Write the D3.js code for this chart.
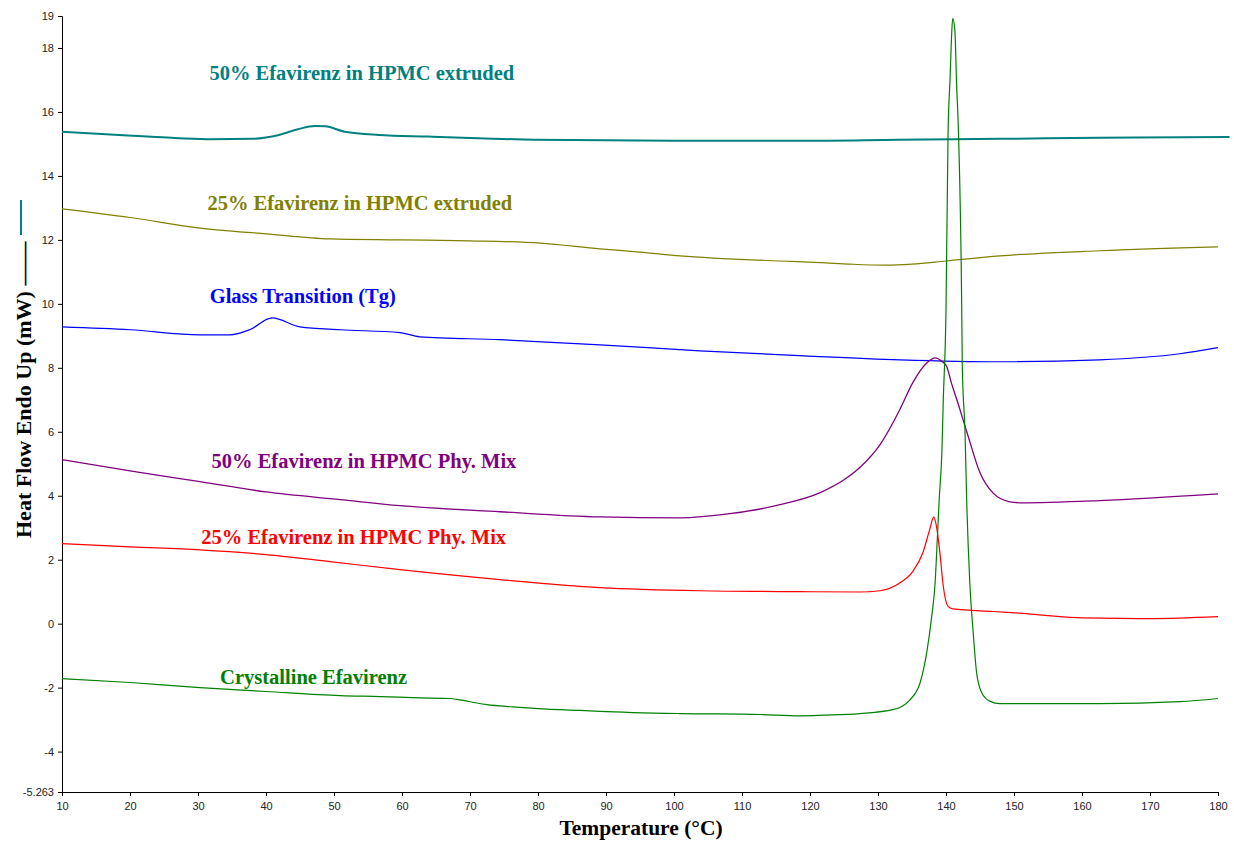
<!DOCTYPE html>
<html>
<head>
<meta charset="utf-8">
<script src="https://cdn.jsdelivr.net/npm/d3@7"></script>
<style>
  html, body { margin: 0; padding: 0; background: #fff; }
  svg { display: block; }
  .tick text { font-family: "Liberation Sans", Arial, sans-serif; font-size: 11px; fill: #222; }
  .note { font-family: "Liberation Serif", "Times New Roman", serif; font-weight: bold; font-size: 20.5px; }
  .axis-title { font-family: "Liberation Serif", "Times New Roman", serif; font-weight: bold; }
</style>
</head>
<body>
<svg id="chart"></svg>
<script>
// DSC traces: [temperature °C, heat flow mW]
const extruded50 = [
  [10, 15.38], [18.5, 15.28], [27.2, 15.18], [32, 15.15], [37.9, 15.16], [41.9, 15.28],
  [44.7, 15.46], [47.2, 15.56], [48.7, 15.55], [51.6, 15.38], [56.6, 15.28], [63.9, 15.23],
  [71.2, 15.18], [79.6, 15.13], [100, 15.1], [118.5, 15.1], [133, 15.13], [148, 15.16],
  [162.6, 15.19], [181.7, 15.22]
];
const extruded25 = [
  [10, 12.97], [20, 12.7], [30.3, 12.37], [40, 12.19], [49.4, 12.03], [59.7, 12.0],
  [70, 11.97], [80.3, 11.9], [89.1, 11.72], [95, 11.62], [100.9, 11.5], [115.6, 11.34],
  [121.5, 11.29], [126, 11.24], [131, 11.21], [135, 11.24], [140, 11.34], [147.9, 11.5],
  [162.6, 11.66], [180, 11.78]
];
const glassTransition = [
  [10, 9.28], [20, 9.19], [30.3, 9.03], [34.7, 9.03], [37.6, 9.19], [40.9, 9.56],
  [45, 9.28], [50.9, 9.19], [59.7, 9.1], [62.6, 8.97], [74.4, 8.88], [89.1, 8.72],
  [103.8, 8.53], [118.5, 8.38], [133.2, 8.25], [148, 8.19], [162.6, 8.25],
  [174.4, 8.44], [180, 8.63]
];
const physMix50 = [
  [10, 5.13], [20, 4.78], [30.3, 4.44], [40, 4.12], [50.9, 3.88], [59.7, 3.69],
  [74.4, 3.5], [89.1, 3.34], [100.9, 3.31], [108.2, 3.44], [115.6, 3.72], [121.5, 4.1],
  [125, 4.5], [127.4, 4.9], [130.3, 5.6], [133.2, 6.69], [135.1, 7.53], [137.2, 8.16],
  [138.4, 8.31], [139.4, 8.2], [140.1, 8.04], [140.8, 7.52], [141.6, 7.0], [143.1, 5.97],
  [145, 4.72], [146.9, 4.09], [149.4, 3.81], [150.9, 3.78], [162.6, 3.85], [180, 4.06]
];
const physMix25 = [
  [10, 2.5], [20, 2.4], [30.3, 2.31], [40, 2.16], [49.4, 1.94], [59.7, 1.69],
  [74.4, 1.38], [89.1, 1.13], [103.8, 1.03], [118.5, 1.0], [127.35, 0.99], [130.3, 1.03],
  [133.2, 1.27], [135.1, 1.63], [136.6, 2.22], [137.6, 2.94], [138.2, 3.33], [138.6, 3.04],
  [139.1, 2.22], [139.6, 1.17], [140.3, 0.54], [141.0, 0.46], [146.9, 0.38], [150.9, 0.33],
  [155, 0.25], [160, 0.18], [170, 0.16], [180, 0.22]
];
const crystalline = [
  [10, -1.72], [20, -1.84], [30.3, -2.0], [40, -2.12], [50.9, -2.25], [56.8, -2.28],
  [62.6, -2.32], [67.1, -2.34], [69, -2.4], [71, -2.48], [72.5, -2.53],
  [76.3, -2.6], [81.3, -2.67], [86.2, -2.71], [89.1, -2.74], [100.9, -2.81], [112.6, -2.84],
  [118.5, -2.88], [122, -2.86], [127.35, -2.81], [132.2, -2.69], [134.7, -2.38],
  [136.2, -1.84], [137.16, -0.91], [137.9, 0.23], [138.4, 1.28], [138.72, 2.63],
  [139.0, 3.88], [139.4, 5.4], [139.6, 7.0], [140.0, 9.8], [140.3, 15.3], [140.6, 17.05],
  [140.84, 18.47], [140.99, 18.93], [141.3, 18.56], [141.57, 16.8], [141.8, 15.6],
  [142.3, 10.1], [142.4, 8.0], [142.8, 5.97], [143.04, 3.88], [143.5, 1.28], [144.0, -0.28],
  [144.5, -1.53], [145.25, -2.16], [146.5, -2.43], [147.9, -2.5], [162.6, -2.5],
  [174.4, -2.44], [180, -2.34]
];

const series = [
  { name: "50% Efavirenz in HPMC extruded", values: extruded50, color: "#008080", width: 2, at: [54.1, 17.0] },
  { name: "25% Efavirenz in HPMC extruded", values: extruded25, color: "#808000", width: 1.2, at: [53.8, 12.94] },
  { name: "Glass Transition (Tg)", values: glassTransition, color: "#0000ff", width: 1.2, at: [45.4, 10.03] },
  { name: "50% Efavirenz in HPMC Phy. Mix", values: physMix50, color: "#800080", width: 1.3, at: [54.4, 4.875] },
  { name: "25% Efavirenz in HPMC Phy. Mix", values: physMix25, color: "#ff0000", width: 1.2, at: [52.9, 2.5] },
  { name: "Crystalline Efavirenz", values: crystalline, color: "#008000", width: 1.2, at: [47, -1.875] }
];

const xTicks = d3.range(10, 181, 10);
const yTicks = [19, 18, 16, 14, 12, 10, 8, 6, 4, 2, 0, -2, -4, -5.263];

const width = 1234, height = 841;
const margin = { top: 16, right: 16, bottom: 49, left: 62 };

const svg = d3.select("#chart").attr("width", width).attr("height", height);
const chart = svg.append("g")
  .attr("transform", `translate(${margin.left}, ${margin.top})`);

const innerW = width - margin.left - margin.right;
const innerH = height - margin.top - margin.bottom;

const xscale = d3.scaleLinear().domain([10, 180]).range([0, innerW]);
const yscale = d3.scaleLinear().domain([-5.263, 19]).range([innerH, 0]);

// axes
const xaxis = d3.axisBottom(xscale).tickValues(xTicks).tickSize(4).tickPadding(6).tickFormat(d3.format("d"));
const yaxis = d3.axisLeft(yscale).tickValues(yTicks).tickSize(4).tickPadding(4).tickFormat(d => String(d));

chart.append("g")
  .attr("transform", `translate(0, ${innerH})`)
  .call(xaxis)
  .call(g => g.select(".domain").attr("stroke", "#000"))
  .call(g => g.selectAll(".tick line").attr("stroke", "#000"));

chart.append("g")
  .call(yaxis)
  .call(g => g.select(".domain").attr("stroke", "#000"))
  .call(g => g.selectAll(".tick line").attr("stroke", "#000"));

// traces
const line = d3.line()
  .x(d => xscale(d[0]))
  .y(d => yscale(d[1]))
  .curve(d3.curveMonotoneX);

chart.selectAll("path.trace")
  .data(series)
  .join("path")
  .attr("class", "trace")
  .attr("fill", "none")
  .attr("stroke", d => d.color)
  .attr("stroke-width", d => d.width)
  .attr("d", d => line(d.values));

// curve captions
chart.selectAll("text.note")
  .data(series)
  .join("text")
  .attr("class", "note")
  .attr("x", d => xscale(d.at[0]))
  .attr("y", d => yscale(d.at[1]))
  .attr("text-anchor", "middle")
  .attr("fill", d => d.color)
  .text(d => d.name);

// axis titles
svg.append("text")
  .attr("class", "axis-title")
  .attr("x", 641)
  .attr("y", 835)
  .attr("text-anchor", "middle")
  .style("font-size", "21.5px")
  .text("Temperature (°C)");

svg.append("text")
  .attr("class", "axis-title")
  .attr("transform", "translate(31, 538) rotate(-90)")
  .attr("text-anchor", "start")
  .style("font-size", "22px")
  .text("Heat Flow Endo Up (mW) ——");

svg.append("line")
  .attr("x1", 21).attr("x2", 21)
  .attr("y1", 200).attr("y2", 235)
  .attr("stroke", "#008080")
  .attr("stroke-width", 2);
</script>
</body>
</html>
